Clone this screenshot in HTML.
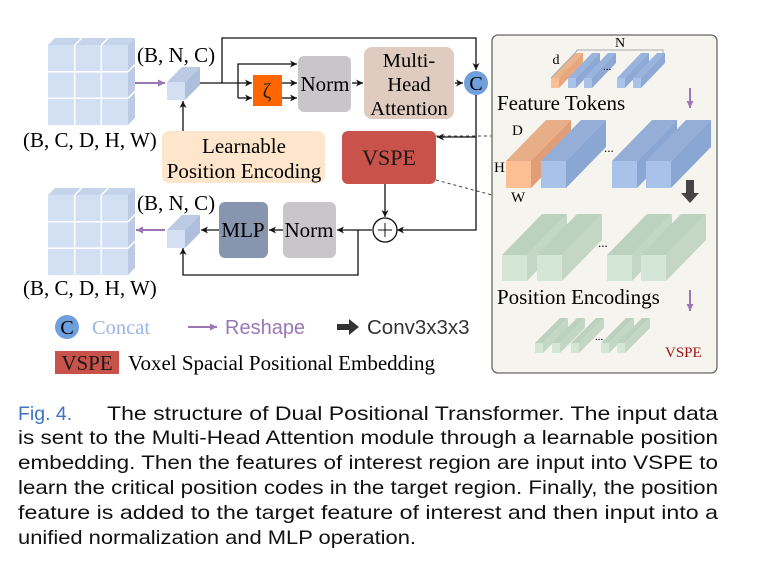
<!DOCTYPE html>
<html><head><meta charset="utf-8"><style>
html,body{margin:0;padding:0;background:#fff;}
svg{display:block;}
.s{font-family:"Liberation Serif",serif;}
.a{font-family:"Liberation Sans",sans-serif;}
</style></head><body>
<svg width="761" height="573" viewBox="0 0 761 573" xmlns="http://www.w3.org/2000/svg">
<defs>
<marker id="ar" markerWidth="8" markerHeight="8" refX="7" refY="4" orient="auto" markerUnits="userSpaceOnUse"><path d="M0,0.5 L7,4 L0,7.5 L2,4 Z" fill="#111"/></marker>
<marker id="ap" markerWidth="8" markerHeight="8" refX="7" refY="4" orient="auto" markerUnits="userSpaceOnUse"><path d="M0,0.5 L7,4 L0,7.5 Z" fill="#9a77b4"/></marker>
</defs>

<g id="grid">
<polygon points="48,45 55,38 135,38 128,45" fill="#c5d4ea"/>
<polygon points="128,45 135,38 135,118 128,125" fill="#bccbe3"/>
<rect x="48" y="45" width="80" height="80" fill="#d3e0f3"/>
<path d="M74.7,45 V125 M101.3,45 V125 M48,71.7 H128 M48,98.3 H128 M74.7,45 L81.7,38 M101.3,45 L108.3,38 M128,71.7 L135,64.7 M128,98.3 L135,91.3" stroke="#fff" stroke-width="1.5" fill="none"/>
</g>
<use href="#grid" y="150"/>

<g id="sc">
<polygon points="167,82 182,67 200,67 185,82" fill="#bccbe3"/>
<polygon points="185,82 200,67 200,85 185,100" fill="#aebfdc"/>
<rect x="167" y="82" width="18" height="18" fill="#d3e0f3"/>
</g>
<use href="#sc" y="148"/>

<text class="s" x="137" y="62" font-size="21">(B, N, C)</text>
<text class="s" x="137" y="210" font-size="21">(B, N, C)</text>
<text class="s" x="23" y="147" font-size="21">(B, C, D, H, W)</text>
<text class="s" x="23" y="295" font-size="21">(B, C, D, H, W)</text>

<line x1="135" y1="83" x2="165" y2="83" stroke="#9a77b4" stroke-width="2" marker-end="url(#ap)"/>
<line x1="165" y1="230" x2="136" y2="230" stroke="#9a77b4" stroke-width="2" marker-end="url(#ap)"/>

<g stroke="#111" stroke-width="1.3" fill="none">
<path d="M200,83 H252" marker-end="url(#ar)"/>
<path d="M222,83 V38 H476 V70" marker-end="url(#ar)"/>
<path d="M238,98 V64 H297" marker-end="url(#ar)"/>
<path d="M238,98 H252" marker-end="url(#ar)"/>
<path d="M282,83 H297" marker-end="url(#ar)"/>
<path d="M282,98 H297" marker-end="url(#ar)"/>
<path d="M352,83 H363" marker-end="url(#ar)"/>
<path d="M455,83 H463" marker-end="url(#ar)"/>
<path d="M183,131 V101" marker-end="url(#ar)"/>
<path d="M476,95 V230 H397" marker-end="url(#ar)"/>
<path d="M476,137 H437" marker-end="url(#ar)"/>
<path d="M385,184 V217" marker-end="url(#ar)"/>
<path d="M372,230 H337" marker-end="url(#ar)"/>
<path d="M358,230 V275 H183 V248" marker-end="url(#ar)"/>
<path d="M283,230 H269" marker-end="url(#ar)"/>
<path d="M219,230 H201" marker-end="url(#ar)"/>
</g>
<path d="M436,136 H492 M436,180 L492,195" stroke="#444" stroke-width="1" stroke-dasharray="3,3" fill="none"/>

<rect x="253" y="75" width="29" height="31" fill="#ff6600"/>
<text class="s" x="267" y="98" font-size="21" text-anchor="middle" fill="#222">ζ</text>
<rect x="298" y="56" width="53" height="56" rx="6" fill="#c8c6c8"/>
<text class="s" x="325" y="91" font-size="21" text-anchor="middle">Norm</text>
<rect x="364" y="47" width="90" height="72" rx="8" fill="#dfcbbf"/>
<text class="s" x="409" y="67" font-size="20.5" text-anchor="middle">Multi-</text>
<text class="s" x="409" y="91" font-size="20.5" text-anchor="middle">Head</text>
<text class="s" x="409" y="115" font-size="20.5" text-anchor="middle">Attention</text>
<circle cx="476" cy="83" r="12" fill="#6f9fdd"/>
<text class="s" x="476" y="90" font-size="20" text-anchor="middle">C</text>

<rect x="162" y="131" width="163" height="52" rx="7" fill="#fde6cc"/>
<text class="s" x="244" y="153" font-size="21" text-anchor="middle">Learnable</text>
<text class="s" x="244" y="178" font-size="21" text-anchor="middle">Position Encoding</text>

<rect x="342" y="131" width="94" height="53" rx="6" fill="#c9524a"/>
<text class="s" x="389" y="165" font-size="22" text-anchor="middle" fill="#1a1a1a">VSPE</text>

<circle cx="385" cy="230" r="12" fill="#fff" stroke="#111" stroke-width="1.3"/>
<path d="M378,230 H392 M385,223 V237" stroke="#111" stroke-width="1"/>

<rect x="283" y="202" width="53" height="56" rx="6" fill="#c8c6c8"/>
<text class="s" x="309" y="237" font-size="21" text-anchor="middle">Norm</text>
<rect x="219" y="202" width="49" height="56" rx="6" fill="#8795ae"/>
<text class="s" x="243" y="237" font-size="21" text-anchor="middle">MLP</text>

<circle cx="67" cy="327" r="12" fill="#6f9fdd"/>
<text class="s" x="67" y="334" font-size="20" text-anchor="middle">C</text>
<text class="s" x="92" y="334" font-size="20.5" fill="#9bb4e4">Concat</text>
<line x1="188" y1="327" x2="217" y2="327" stroke="#9a77b4" stroke-width="2" marker-end="url(#ap)"/>
<text class="a" x="225" y="334" font-size="20" fill="#9a77b4">Reshape</text>
<path d="M337,324 H349 V319 L359,327 L349,335 V330 H337 Z" fill="#333"/>
<text class="a" x="367" y="334" font-size="20.5" fill="#333">Conv3x3x3</text>
<rect x="55" y="351" width="64" height="23" fill="#c9524a"/>
<text class="s" x="87" y="370" font-size="21" text-anchor="middle" fill="#1a1a1a">VSPE</text>
<text class="s" x="128" y="370" font-size="21">Voxel Spacial Positional Embedding</text>

<rect x="492" y="35" width="225" height="338" rx="6" fill="#f6f4ee" stroke="#666" stroke-width="1.3"/>
<g>
<path d="M551,78 L575,53 L583,53 L559,78 Z" fill="#eab48c"/><path d="M559,78 L583,53 V63 L559,88 Z" fill="#e9a67c"/><rect x="551" y="78" width="8" height="10" fill="#fcbf94"/>
<g id="sb"><path d="M568,78 L592,53 L600,53 L576,78 Z" fill="#98b3dc"/><path d="M576,78 L600,53 V63 L576,88 Z" fill="#8fa9d6"/><rect x="568" y="78" width="8" height="10" fill="#a9c2e9"/></g>
<use href="#sb" x="16"/><use href="#sb" x="49"/><use href="#sb" x="65"/>
</g>
<path d="M551,78 L576,52 L577,50 H663 V53" stroke="#aaa" stroke-width="1" fill="none"/>
<text class="s" x="620" y="47" font-size="14" text-anchor="middle">N</text>
<text class="s" x="556" y="64" font-size="14" text-anchor="middle">d</text>
<text class="s" x="603" y="70" font-size="11">...</text>
<text class="s" x="497" y="110" font-size="21">Feature Tokens</text>
<line x1="690" y1="88" x2="690" y2="108" stroke="#9a77b4" stroke-width="2" marker-end="url(#ap)"/>
<g>
<path d="M506,161 L546,120 L571,120 L531,161 Z" fill="#e8ae88"/><path d="M531,161 L571,120 V147 L531,188 Z" fill="#e09e78"/><rect x="506" y="161" width="25" height="27" fill="#fcbf94"/>
<g id="bb"><path d="M541,161 L581,120 L606,120 L566,161 Z" fill="#94aed8"/><path d="M566,161 L606,120 V147 L566,188 Z" fill="#8aa6d3"/><rect x="541" y="161" width="25" height="27" fill="#a9c2e9"/></g>
<use href="#bb" x="71"/><use href="#bb" x="105"/>
</g>
<text class="s" x="604" y="152" font-size="13">...</text>
<text class="s" x="512" y="135" font-size="15">D</text>
<text class="s" x="494" y="172" font-size="15">H</text>
<text class="s" x="511" y="202" font-size="15">W</text>
<path d="M686,180 H694 V193 H699 L690,203 L681,193 H686 Z" fill="#444"/>
<g>
<g id="gb"><path d="M502,255 L542,214 L567,214 L527,255 Z" fill="#bdd2be"/><path d="M527,255 L567,214 V240 L527,281 Z" fill="#c3d7c4"/><rect x="502" y="255" width="25" height="26" fill="#d4e6d5"/></g>
<use href="#gb" x="35"/><use href="#gb" x="105"/><use href="#gb" x="139"/>
</g>
<text class="s" x="598" y="247" font-size="13">...</text>
<text class="s" x="497" y="304" font-size="21">Position Encodings</text>
<line x1="690" y1="290" x2="690" y2="311" stroke="#9a77b4" stroke-width="2" marker-end="url(#ap)"/>
<g>
<g id="gs"><path d="M535,343 L560,318 L568,318 L543,343 Z" fill="#bdd2be"/><path d="M543,343 L568,318 V328 L543,353 Z" fill="#c3d7c4"/><rect x="535" y="343" width="8" height="10" fill="#d4e6d5"/></g>
<use href="#gs" x="17"/><use href="#gs" x="36"/><use href="#gs" x="66"/><use href="#gs" x="82"/>
</g>
<text class="s" x="595" y="340" font-size="11">...</text>
<text class="s" x="665" y="357" font-size="15" fill="#a01010">VSPE</text>

<g class="a" font-size="19.5" fill="#111">
<text x="18" y="420"><tspan fill="#3f74c4">Fig. 4.</tspan></text>
<text x="107" y="420" textLength="611" lengthAdjust="spacingAndGlyphs">The structure of Dual Positional Transformer. The input data</text>
<text x="18" y="444" textLength="700" lengthAdjust="spacingAndGlyphs">is sent to the Multi-Head Attention module through a learnable position</text>
<text x="18" y="469" textLength="700" lengthAdjust="spacingAndGlyphs">embedding. Then the features of interest region are input into VSPE to</text>
<text x="18" y="494" textLength="700" lengthAdjust="spacingAndGlyphs">learn the critical position codes in the target region. Finally, the position</text>
<text x="18" y="519" textLength="700" lengthAdjust="spacingAndGlyphs">feature is added to the target feature of interest and then input into a</text>
<text x="18" y="544" textLength="398" lengthAdjust="spacingAndGlyphs">unified normalization and MLP operation.</text>
</g>
</svg>
</body></html>
